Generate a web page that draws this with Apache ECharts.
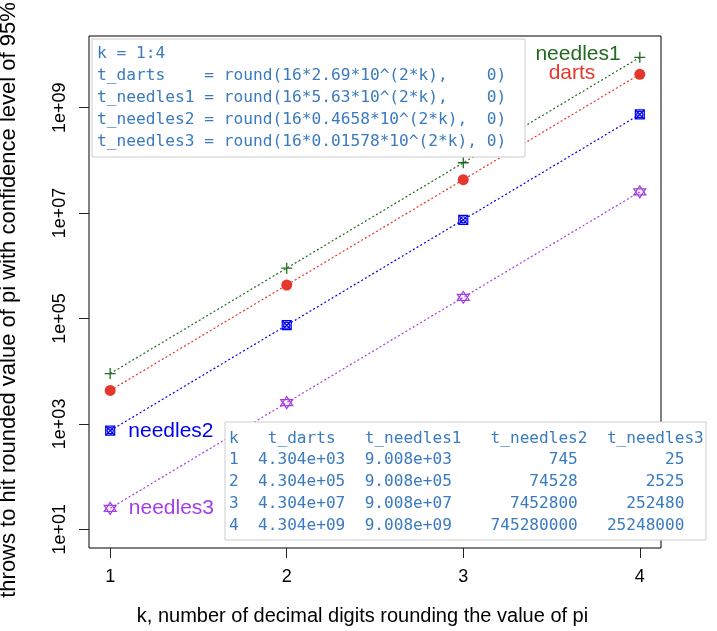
<!DOCTYPE html>
<html><head><meta charset="utf-8">
<script src="https://cdn.jsdelivr.net/npm/echarts@6/dist/echarts.min.js"></script>
<style>html,body{margin:0;padding:0;background:#fff}#c{width:717px;height:631px}</style>
</head><body><div id="c"></div>
<script>
// ---- data ----
const k = [1, 2, 3, 4];
const tDarts = [4304, 430400, 43040000, 4304000000];
const tNeedles1 = [9008, 900800, 90080000, 9008000000];
const tNeedles2 = [745, 74528, 7452800, 745280000];
const tNeedles3 = [25, 2525, 252480, 25248000];
const xTicks = [1, 2, 3, 4];
const yTicks = [1e1, 1e3, 1e5, 1e7, 1e9];
const codeLines = [
  'k = 1:4',
  't_darts    = round(16*2.69*10^(2*k),    0)',
  't_needles1 = round(16*5.63*10^(2*k),    0)',
  't_needles2 = round(16*0.4658*10^(2*k),  0)',
  't_needles3 = round(16*0.01578*10^(2*k), 0)'
];
const tableHeader = ['k', 't_darts', 't_needles1', 't_needles2', 't_needles3'];

// ---- helpers ----
function fmtE(v) {
  return v.toExponential(3).replace(/e([+-])(\d+)$/, function (m, s, d) {
    return 'e' + s + (d.length < 2 ? '0' + d : d);
  });
}
const tableLines = [
  tableHeader[0] + '   ' + tableHeader[1] + '   ' + tableHeader[2] + '   ' + tableHeader[3] + '  ' + tableHeader[4]
];
k.forEach(function (kk, i) {
  tableLines.push(String(kk) + '  ' + fmtE(tDarts[i]) + '  ' + fmtE(tNeedles1[i]) +
    String(tNeedles2[i]).padStart(13) + String(tNeedles3[i]).padStart(11));
});

const C_GREEN = '#1f6b1f', C_RED = '#e6372c', C_BLUE = '#0000f0', C_PURPLE = '#a23ee8';
const C_CODE = '#3a7bbf';
const DOT = [2, 2.3];

function mkData(vals, labelIdx, label) {
  return k.map(function (kk, i) {
    const item = { value: [kk, vals[i]] };
    if (i === labelIdx) item.label = label;
    return item;
  });
}
function lbl(text, color, pos, dist, off) {
  return {
    show: true, formatter: text, position: pos, distance: dist, offset: off || [0, 0],
    color: color, fontSize: 21, fontFamily: 'Liberation Sans, Arial, sans-serif'
  };
}

const chart = echarts.init(document.getElementById('c'), null, { renderer: 'canvas' });
const option = {
  animation: false,
  backgroundColor: '#ffffff',
  grid: {
    left: 89, right: 56, top: 36, bottom: 83,
    containLabel: false, outerBoundsMode: 'none',
    show: true, borderColor: '#000', borderWidth: 1, backgroundColor: 'transparent'
  },
  xAxis: {
    type: 'value', min: 0.88, max: 4.12,
    name: 'k, number of decimal digits rounding the value of pi',
    nameLocation: 'middle', nameGap: 58,
    nameTextStyle: { color: '#000', fontSize: 20, fontFamily: 'Liberation Sans, Arial, sans-serif', padding: [0, 25, 0, 0] },
    axisLine: { show: false },
    axisTick: { show: true, length: 10, inside: false, customValues: xTicks, lineStyle: { color: '#222', width: 1 } },
    axisLabel: { show: true, customValues: xTicks, margin: 20, color: '#000', fontSize: 18, fontFamily: 'Liberation Sans, Arial, sans-serif' },
    splitLine: { show: false }
  },
  yAxis: {
    type: 'log', logBase: 10, min: Math.pow(10, 0.645), max: Math.pow(10, 10.36),
    name: 'throws to hit rounded value of pi with confidence level of 95%',
    nameLocation: 'middle', nameGap: 69,
    nameTextStyle: { color: '#000', fontSize: 22, fontFamily: 'Liberation Sans, Arial, sans-serif', padding: [0, 16, 0, 0] },
    axisLine: { show: false },
    axisTick: { show: true, length: 10, inside: false, customValues: yTicks, lineStyle: { color: '#222', width: 1 } },
    axisLabel: {
      show: true, customValues: yTicks, rotate: 90, margin: 20, color: '#000', fontSize: 18,
      fontFamily: 'Liberation Sans, Arial, sans-serif',
      formatter: function (v) {
        const e = Math.round(Math.log10(v));
        return '1e+' + (e < 10 ? '0' + e : String(e));
      }
    },
    splitLine: { show: false }
  },
  series: [
    {
      name: 'needles1', type: 'line', data: mkData(tNeedles1, 3, lbl('needles1', C_GREEN, 'left', 13, [0, -3])),
      symbol: 'path://M5,0L5,10M0,5L10,5', symbolSize: 11,
      itemStyle: { color: 'transparent', borderColor: C_GREEN, borderWidth: 1.3 },
      lineStyle: { color: C_GREEN, width: 1.2, type: DOT }, z: 3
    },
    {
      name: 'darts', type: 'line', data: mkData(tDarts, 3, lbl('darts', C_RED, 'left', 39, [0, -1])),
      symbol: 'circle', symbolSize: 11,
      itemStyle: { color: C_RED, borderWidth: 0 },
      lineStyle: { color: C_RED, width: 1.2, type: DOT }, z: 3
    },
    {
      name: 'needles2', type: 'line', data: mkData(tNeedles2, 0, lbl('needles2', C_BLUE, 'right', 13, [0, 1])),
      symbol: 'path://M0,0L10,0L10,10L0,10ZM0,0L10,10M10,0L0,10M5,1.6A3.4,3.4,0,1,1,4.99,1.6Z', symbolSize: 9,
      itemStyle: { color: 'transparent', borderColor: C_BLUE, borderWidth: 1.2 },
      lineStyle: { color: C_BLUE, width: 1.2, type: DOT }, z: 3
    },
    {
      name: 'needles3', type: 'line', data: mkData(tNeedles3, 0, lbl('needles3', C_PURPLE, 'right', 12, [0, 0])),
      symbol: 'path://M5,0L10,7.5L0,7.5ZM0,2.5L10,2.5L5,10Z', symbolSize: 12,
      itemStyle: { color: 'transparent', borderColor: C_PURPLE, borderWidth: 1.2 },
      lineStyle: { color: C_PURPLE, width: 1.2, type: DOT }, z: 3
    }
  ],
  graphic: [
    {
      type: 'rect', z: 100, shape: { x: 92, y: 39, width: 433, height: 118 },
      style: { fill: '#fff', stroke: '#cccccc', lineWidth: 1 }
    },
    {
      type: 'text', z: 101, x: 97, y: 43,
      style: {
        text: codeLines.join('\n'), fill: C_CODE, font: '16.2px "DejaVu Sans Mono", monospace',
        lineHeight: 22, verticalAlign: 'top', align: 'left'
      }
    },
    {
      type: 'rect', z: 100, shape: { x: 225, y: 422, width: 481, height: 118 },
      style: { fill: '#fff', stroke: '#cccccc', lineWidth: 1 }
    },
    {
      type: 'text', z: 101, x: 229, y: 427.5,
      style: {
        text: tableLines.join('\n'), fill: C_CODE, font: '16.1px "DejaVu Sans Mono", monospace',
        lineHeight: 21.75, verticalAlign: 'top', align: 'left'
      }
    }
  ]
};
chart.setOption(option);
</script></body></html>
